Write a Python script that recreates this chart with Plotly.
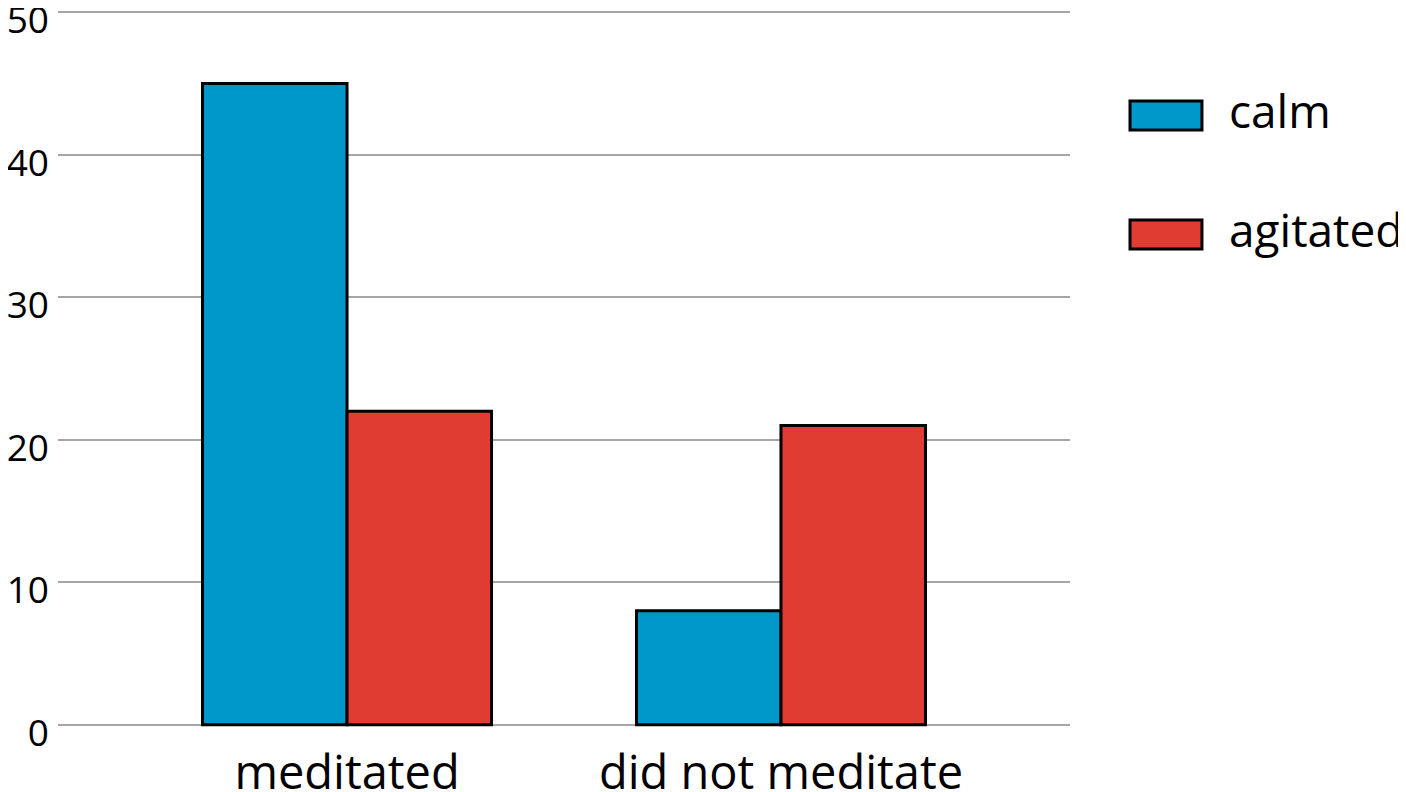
import plotly.graph_objects as go

categories = ['meditated', 'did not meditate']
calm = [45, 8]
agitated = [22, 21]
series_names = ['calm', 'agitated']
colors = ['#0097CA', '#E03C31']
y_ticks = [0, 10, 20, 30, 40, 50]

fig = go.Figure()
for name, vals, col in zip(series_names, [calm, agitated], colors):
    fig.add_trace(go.Bar(x=categories, y=vals, name=name,
                         marker=dict(color=col, line=dict(color='black', width=3)),
                         showlegend=False))

# legend drawn by hand so the swatches are wide rectangles
legend_y = [(0.8326, 0.8731), (0.6667, 0.7071)]
for (y0, y1), name, col in zip(legend_y, series_names, colors):
    fig.add_shape(type='rect', xref='paper', yref='paper',
                  x0=1.0593, x1=1.1304, y0=y0, y1=y1,
                  fillcolor=col, line=dict(color='black', width=3))
    fig.add_annotation(xref='paper', yref='paper', x=1.155, y=(y0 + y1) / 2 + 0.008,
                       text=name, showarrow=False, xanchor='left', yanchor='middle',
                       font=dict(size=46, color='black', family='Open Sans'))

# the page has an 8px body margin, so the figure is a bit smaller than the window
fig.update_layout(
    width=1398, height=784,
    margin=dict(l=50, r=336, t=2, b=65),
    paper_bgcolor='white', plot_bgcolor='white',
    barmode='group', bargap=0.334, bargroupgap=0,
    font=dict(family='Open Sans', size=37, color='black'),
    xaxis=dict(range=[-0.666, 1.666], showgrid=False, showline=False,
               ticks='', automargin=False, tickfont=dict(size=47),
               ticklabelstandoff=14),
    yaxis=dict(range=[-0.15, 50.15], tickvals=y_ticks, showgrid=True,
               gridcolor='#A6A6A6', gridwidth=2, zeroline=False,
               showline=False, ticks='', automargin=False,
               ticklabelstandoff=8, ticklabeloverflow='allow',
               ticklabelshift=8),
)

fig.write_html("out.html")
